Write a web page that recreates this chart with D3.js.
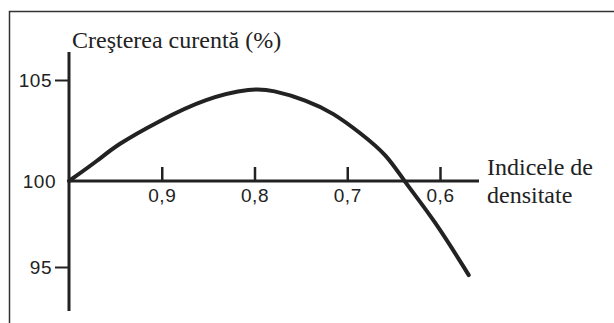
<!DOCTYPE html>
<html>
<head>
<meta charset="utf-8">
<script src="https://cdn.jsdelivr.net/npm/d3@7"></script>
<style>
  body { margin: 0; background: #fff; }
  svg { display: block; }
</style>
</head>
<body>
<div id="chart"></div>
<script>
// density index (x, reversed) and current growth (%)
const density_index = [1.0, 0.968, 0.949, 0.903, 0.852, 0.802, 0.781, 0.744, 0.715, 0.686, 0.657, 0.639, 0.606, 0.569];
const growth_values = [100, 101.04, 101.78, 102.97, 104.11, 104.6, 104.5, 104.01, 103.37, 102.38, 101.29, 100, 97.73, 94.53];
const x_ticks = [0.9, 0.8, 0.7, 0.6];
const x_tick_labels = ["0,9", "0,8", "0,7", "0,6"];
const y_ticks = [105, 100, 95];

const chart = { width: 614, height: 323 };
const ink = "#222";
const sans = "'Liberation Sans', Arial, sans-serif";
const serif = "'Liberation Serif', 'Times New Roman', serif";

const svg = d3.select("#chart")
  .append("svg")
    .attr("width", chart.width)
    .attr("height", chart.height);

// frame: top and left edges only
svg.append("path")
  .attr("d", "M9.5,323 V11.5 H614")
  .attr("fill", "none")
  .attr("stroke", "#333")
  .attr("stroke-width", 1.5);

const x = d3.scaleLinear().domain([1.0, 0.6]).range([69, 440]);
// scanned figure is slightly uneven, keep the 100 line on the axis
const y = d3.scaleLinear().domain([95, 100, 105]).range([267, 181, 80]);

// y axis
const y_axis = d3.axisLeft(y)
  .tickValues(y_ticks)
  .tickSize(14)
  .tickFormat(d3.format("d"));

const gy = svg.append("g")
  .attr("transform", `translate(${x(1.0)},0)`)
  .call(y_axis)
  .attr("font-family", sans)
  .attr("font-size", 19);
gy.select(".domain").remove();
gy.selectAll(".tick line").attr("stroke", ink).attr("stroke-width", 2);
gy.selectAll(".tick text")
  .attr("fill", ink)
  .attr("x", -17)
  .attr("dy", "0.35em")
  .attr("letter-spacing", 0.5);
// the 100 label sits without tick mark
gy.selectAll(".tick").filter((d) => d === 100).select("line").remove();
gy.selectAll(".tick").filter((d) => d === 100).select("text").attr("x", -13);

svg.append("line")
  .attr("x1", x(1.0)).attr("x2", x(1.0))
  .attr("y1", 52).attr("y2", 311)
  .attr("stroke", ink)
  .attr("stroke-width", 3);

// x axis on the 100 line, ticks pointing up
const x_axis = d3.axisTop(x)
  .tickValues(x_ticks)
  .tickSize(14)
  .tickFormat((d, i) => x_tick_labels[i]);

const gx = svg.append("g")
  .attr("transform", `translate(0,${y(100)})`)
  .call(x_axis)
  .attr("font-family", sans)
  .attr("font-size", 19);
gx.select(".domain").remove();
gx.selectAll(".tick line").attr("stroke", ink).attr("stroke-width", 2.5);
gx.selectAll(".tick text")
  .attr("fill", ink)
  .attr("y", 21)
  .attr("dy", "0em")
  .attr("letter-spacing", 0.5);

svg.append("line")
  .attr("x1", x(1.0)).attr("x2", 479)
  .attr("y1", y(100)).attr("y2", y(100))
  .attr("stroke", ink)
  .attr("stroke-width", 3);

// curve
const line = d3.line()
  .x((d, i) => x(density_index[i]))
  .y((d) => y(d))
  .curve(d3.curveBasis);

svg.append("path")
  .datum(growth_values)
  .attr("d", line)
  .attr("fill", "none")
  .attr("stroke", ink)
  .attr("stroke-width", 4)
  .attr("stroke-linecap", "round");

// titles
const label = (text, px, py) => svg.append("text")
  .attr("x", px).attr("y", py)
  .attr("font-family", serif)
  .attr("font-size", 24)
  .attr("fill", ink)
  .text(text);

label("Creşterea curentă (%)", 72, 48);
label("Indicele de", 487, 175);
label("densitate", 487, 203);
</script>
</body>
</html>
